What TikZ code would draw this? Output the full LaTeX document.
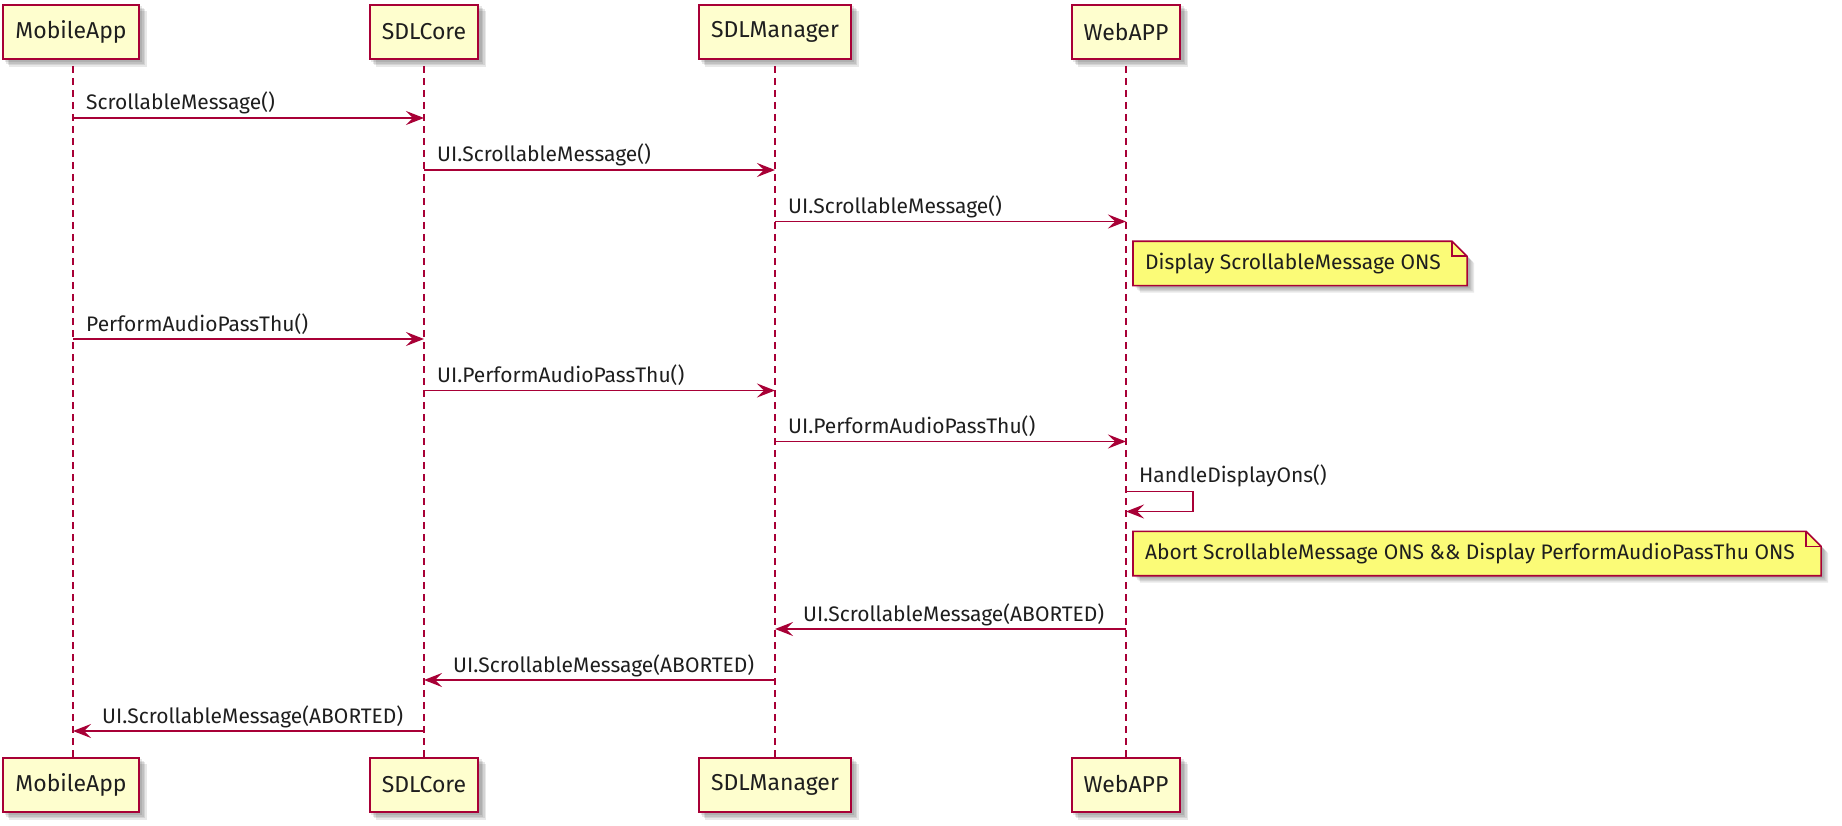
\documentclass[tikz,border=0pt]{standalone}
\usepackage{fontspec}
\setmainfont{Fira Sans}
\usetikzlibrary{arrows.meta}
\definecolor{pumlred}{HTML}{A80036}
\definecolor{pumlbox}{HTML}{FEFECE}
\definecolor{pumlnote}{HTML}{FBFB77}
\definecolor{txt}{HTML}{1E1E1E}
\pgfdeclarelayer{shadowlayer}
\pgfdeclarelayer{filllayer}
\pgfsetlayers{shadowlayer,filllayer,main}
\newcommand\boxshadow[1]{%
  \begin{pgfonlayer}{shadowlayer}
    \foreach \d in {2.5,4,5.5,7}{%
      \fill[black,opacity=0.09] ([shift={(\d,-\d)}]#1.south west) rectangle ([shift={(\d,-\d)}]#1.north east);}
  \end{pgfonlayer}}
\newcommand\notedraw[1]{%
  \begin{pgfonlayer}{shadowlayer}
    \foreach \d in {2.5,4,5.5,7}{%
      \fill[black,opacity=0.09] ([shift={(\d,-\d)}]#1.north west) -- ([shift={(\d-1,-\d)}]#1.north east) -- ([shift={(\d+14,-\d-15)}]#1.north east) -- ([shift={(\d+14,-\d)}]#1.south east) -- ([shift={(\d,-\d)}]#1.south west) -- cycle;}
  \end{pgfonlayer}
  \begin{pgfonlayer}{filllayer}
    \draw[notestyle] (#1.north west) -- ([xshift=-1]#1.north east) -- ([shift={(14,-15)}]#1.north east) -- ([xshift=14]#1.south east) -- (#1.south west) -- cycle;
    \draw[notestyle,fill=none] ([xshift=-1]#1.north east) -- ([shift={(-1,-15)}]#1.north east) -- ([shift={(14,-15)}]#1.north east);
  \end{pgfonlayer}}
\begin{document}
\begin{tikzpicture}[x=1pt,y=1pt,
  font=\fontsize{21}{25}\selectfont,
  part/.style={draw=pumlred, fill=pumlbox, line width=2pt, minimum height=54pt, inner xsep=12pt, inner ysep=0pt, text=txt, font=\fontsize{23}{27}\selectfont},
  life/.style={draw=pumlred, line width=1.6pt, dash pattern=on 7pt off 5pt},
  msg/.style={draw=pumlred, line width=1.6pt, -{Stealth[length=18pt,width=14pt,inset=7pt]}},
  lbl/.style={anchor=base west, inner sep=0pt, text=txt},
  notebox/.style={anchor=west, inner xsep=12pt, inner ysep=0pt, minimum height=44pt, text=txt},
  notestyle/.style={draw=pumlred, fill=pumlnote, line width=1.6pt, line join=miter},
]
\useasboundingbox (0,0) rectangle (1842,-826);

% participants (top)
\node[part] (mA) at (71,-32) {MobileApp};
\node[part] (sC) at (424,-32) {SDLCore};
\node[part] (sM) at (775,-32) {SDLManager};
\node[part] (wA) at (1126,-32) {WebAPP};
% participants (bottom)
\node[part] (mAb) at (71,-784.5) {MobileApp};
\node[part] (sCb) at (424,-784.5) {SDLCore};
\node[part] (sMb) at (775,-784.5) {SDLManager};
\node[part] (wAb) at (1126,-784.5) {WebAPP};
\boxshadow{mA}\boxshadow{sC}\boxshadow{sM}\boxshadow{wA}
\boxshadow{mAb}\boxshadow{sCb}\boxshadow{sMb}\boxshadow{wAb}

% lifelines
\draw[life] ([yshift=-6]mA.south -| 73,0) -- (mAb.north -| 73,0);
\draw[life] ([yshift=-6]sC.south) -- (sCb.north);
\draw[life] ([yshift=-6]sM.south) -- (sMb.north);
\draw[life] ([yshift=-6]wA.south) -- (wAb.north);

% messages
\coordinate (mL) at (73,0);
\draw[msg] (mL |- 0,-118) -- (sC |- 0,-118);
\node[lbl] (l1) at (86,-110) {ScrollableMessage()};
\draw[msg] (sC |- 0,-170) -- (sM |- 0,-170);
\node[lbl] (l2) at (437,-162) {UI.ScrollableMessage()};
\draw[msg] (sM |- 0,-221.5) -- (wA |- 0,-221.5);
\node[lbl] (l3) at (788,-213.5) {UI.ScrollableMessage()};

\node[notebox] (n1) at (1133,-263.5) {Display ScrollableMessage ONS};
\notedraw{n1}

\draw[msg] (mL |- 0,-339) -- (sC |- 0,-339);
\node[lbl] (l4) at (86,-331) {PerformAudioPassThu()};
\draw[msg] (sC |- 0,-390.5) -- (sM |- 0,-390.5);
\node[lbl] (l5) at (437,-382.5) {UI.PerformAudioPassThu()};
\draw[msg] (sM |- 0,-441.5) -- (wA |- 0,-441.5);
\node[lbl] (l6) at (788,-433.5) {UI.PerformAudioPassThu()};

% self message
\coordinate (s1) at (1193,-491.5);
\coordinate (s2) at (1193,-511.5);
\draw[msg] (wA |- s1) -- (s1) -- (s2) -- (wA |- s2);
\node[lbl] (l7) at (1139,-482) {HandleDisplayOns()};

\node[notebox] (n2) at (1133,-553.5) {Abort ScrollableMessage ONS \&\& Display PerformAudioPassThu ONS};
\notedraw{n2}

\draw[msg] (wA |- 0,-629) -- (sM |- 0,-629);
\node[lbl] (l8) at (803,-621) {UI.ScrollableMessage(ABORTED)};
\draw[msg] (sM |- 0,-680) -- (sC |- 0,-680);
\node[lbl] (l9) at (453,-672) {UI.ScrollableMessage(ABORTED)};
\draw[msg] (sC |- 0,-731) -- (mL |- 0,-731);
\node[lbl] (l10) at (102,-723) {UI.ScrollableMessage(ABORTED)};
\end{tikzpicture}
\end{document}
